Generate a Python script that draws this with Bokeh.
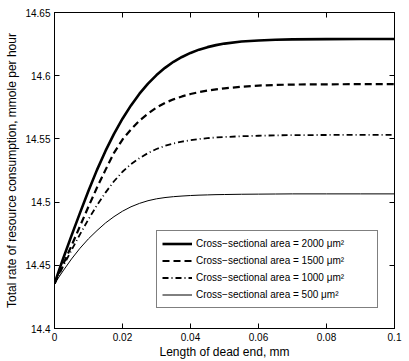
from bokeh.plotting import figure
from bokeh.models import (Range1d, FixedTicker, LinearAxis, Legend, LegendItem,
                          CustomJSTickFormatter)
from bokeh.embed import file_html
from bokeh.resources import INLINE

# ---- data ----
x_mm = [0, 0.0025, 0.005, 0.0075, 0.01, 0.0125, 0.015, 0.0175, 0.02, 0.0225, 0.025,
        0.0275, 0.03, 0.0325, 0.035, 0.0375, 0.04, 0.0425, 0.045, 0.0475, 0.05,
        0.055, 0.06, 0.065, 0.07, 0.08, 0.09, 0.1]
rate_2000 = [14.4355, 14.455, 14.4735, 14.4915, 14.509, 14.5255, 14.5405, 14.554, 14.566,
             14.5765, 14.5858, 14.5937, 14.6005, 14.6062, 14.611, 14.6148, 14.618,
             14.6206, 14.6226, 14.6242, 14.6254,
             14.627, 14.6279, 14.6284, 14.6287, 14.6289, 14.629, 14.629]
rate_1500 = [14.4355, 14.4505, 14.4655, 14.481, 14.4965, 14.5115, 14.5255, 14.539, 14.5495,
             14.5575, 14.5645, 14.570, 14.5748, 14.5785, 14.5813, 14.5836, 14.5855,
             14.587, 14.5882, 14.5892, 14.590,
             14.5913, 14.5922, 14.5927, 14.593, 14.5932, 14.5933, 14.5933]
rate_1000 = [14.4355, 14.449, 14.462, 14.4745, 14.4865, 14.4975, 14.5075, 14.5165, 14.524,
             14.530, 14.5348, 14.5388, 14.542, 14.5445, 14.5464, 14.5479, 14.549,
             14.5499, 14.5506, 14.5511, 14.5515,
             14.5521, 14.5525, 14.5528, 14.553, 14.5531, 14.5532, 14.5532]
rate_500 = [14.4355, 14.4455, 14.455, 14.4635, 14.471, 14.4775, 14.4835, 14.4885, 14.4928,
            14.4963, 14.499, 14.5011, 14.5026, 14.5036, 14.5043, 14.5048, 14.5052,
            14.5055, 14.5057, 14.5059, 14.506,
            14.5062, 14.5063, 14.5064, 14.5065, 14.5065, 14.5065, 14.5065]
legend_labels = ["Cross\u2212sectional area = 2000 \u03bcm\u00b2",
                 "Cross\u2212sectional area = 1500 \u03bcm\u00b2",
                 "Cross\u2212sectional area = 1000 \u03bcm\u00b2",
                 "Cross\u2212sectional area = 500 \u03bcm\u00b2"]
x_ticks = [0, 0.02, 0.04, 0.06, 0.08, 0.1]
y_ticks = [14.4, 14.45, 14.5, 14.55, 14.6, 14.65]

FONT = "Liberation Sans"

p = figure(width=409, height=361, output_backend="svg", toolbar_location=None,
           x_range=Range1d(0, 0.1), y_range=Range1d(14.4, 14.65),
           min_border_left=54, min_border_right=15, min_border_top=12, min_border_bottom=33)
p.xgrid.visible = False
p.ygrid.visible = False
p.outline_line_color = "black"
p.outline_line_width = 1
p.background_fill_color = "white"
p.border_fill_color = "white"

fmt = CustomJSTickFormatter(code="return String(Number(tick.toFixed(4)));")
blank = CustomJSTickFormatter(code="return '';")

def style_axis(ax):
    ax.axis_line_color = "black"
    ax.major_tick_line_color = "black"
    ax.major_tick_in = 5
    ax.major_tick_out = 0
    ax.minor_tick_line_color = None
    ax.major_label_text_font = FONT
    ax.major_label_text_font_size = "10px"
    ax.major_label_text_color = "black"
    ax.axis_label_text_font = FONT
    ax.axis_label_text_font_size = "12px"
    ax.axis_label_text_font_style = "normal"
    ax.axis_label_text_color = "black"

p.xaxis.ticker = FixedTicker(ticks=x_ticks)
p.yaxis.ticker = FixedTicker(ticks=y_ticks)
p.xaxis.formatter = fmt
p.yaxis.formatter = fmt
p.xaxis.axis_label = "Length of dead end, mm"
p.yaxis.axis_label = "Total rate of resource consumption, mmole per hour"
style_axis(p.xaxis[0])
style_axis(p.yaxis[0])
p.xaxis.major_label_standoff = 4
p.yaxis.major_label_standoff = 4
p.xaxis.axis_label_standoff = 1
p.yaxis.axis_label_standoff = 3

top_ax = LinearAxis(ticker=FixedTicker(ticks=x_ticks), formatter=blank,
                    major_label_standoff=0)
right_ax = LinearAxis(ticker=FixedTicker(ticks=y_ticks), formatter=blank,
                      major_label_standoff=0)
style_axis(top_ax)
style_axis(right_ax)
p.add_layout(top_ax, "above")
p.add_layout(right_ax, "right")

r1 = p.line(x_mm, rate_2000, line_color="black", line_width=2.6)
r2 = p.line(x_mm, rate_1500, line_color="black", line_width=2.2, line_dash="7 4")
r3 = p.line(x_mm, rate_1000, line_color="black", line_width=1.8, line_dash="6 3 1 3")
r4 = p.line(x_mm, rate_500, line_color="black", line_width=1)

legend = Legend(items=[LegendItem(label=legend_labels[0], renderers=[r1]),
                       LegendItem(label=legend_labels[1], renderers=[r2]),
                       LegendItem(label=legend_labels[2], renderers=[r3]),
                       LegendItem(label=legend_labels[3], renderers=[r4])],
                location=(102, 20))
legend.border_line_color = "black"
legend.border_line_width = 1
legend.background_fill_color = "white"
legend.background_fill_alpha = 1
legend.label_text_font = FONT
legend.label_text_font_size = "10px"
legend.label_text_color = "black"
legend.glyph_width = 30
legend.glyph_height = 15
legend.label_height = 15
legend.label_width = 176
legend.label_standoff = 4
legend.spacing = 2
legend.padding = 5
legend.margin = 0
p.add_layout(legend, "center")

open("out.html", "w").write(file_html(p, INLINE))
